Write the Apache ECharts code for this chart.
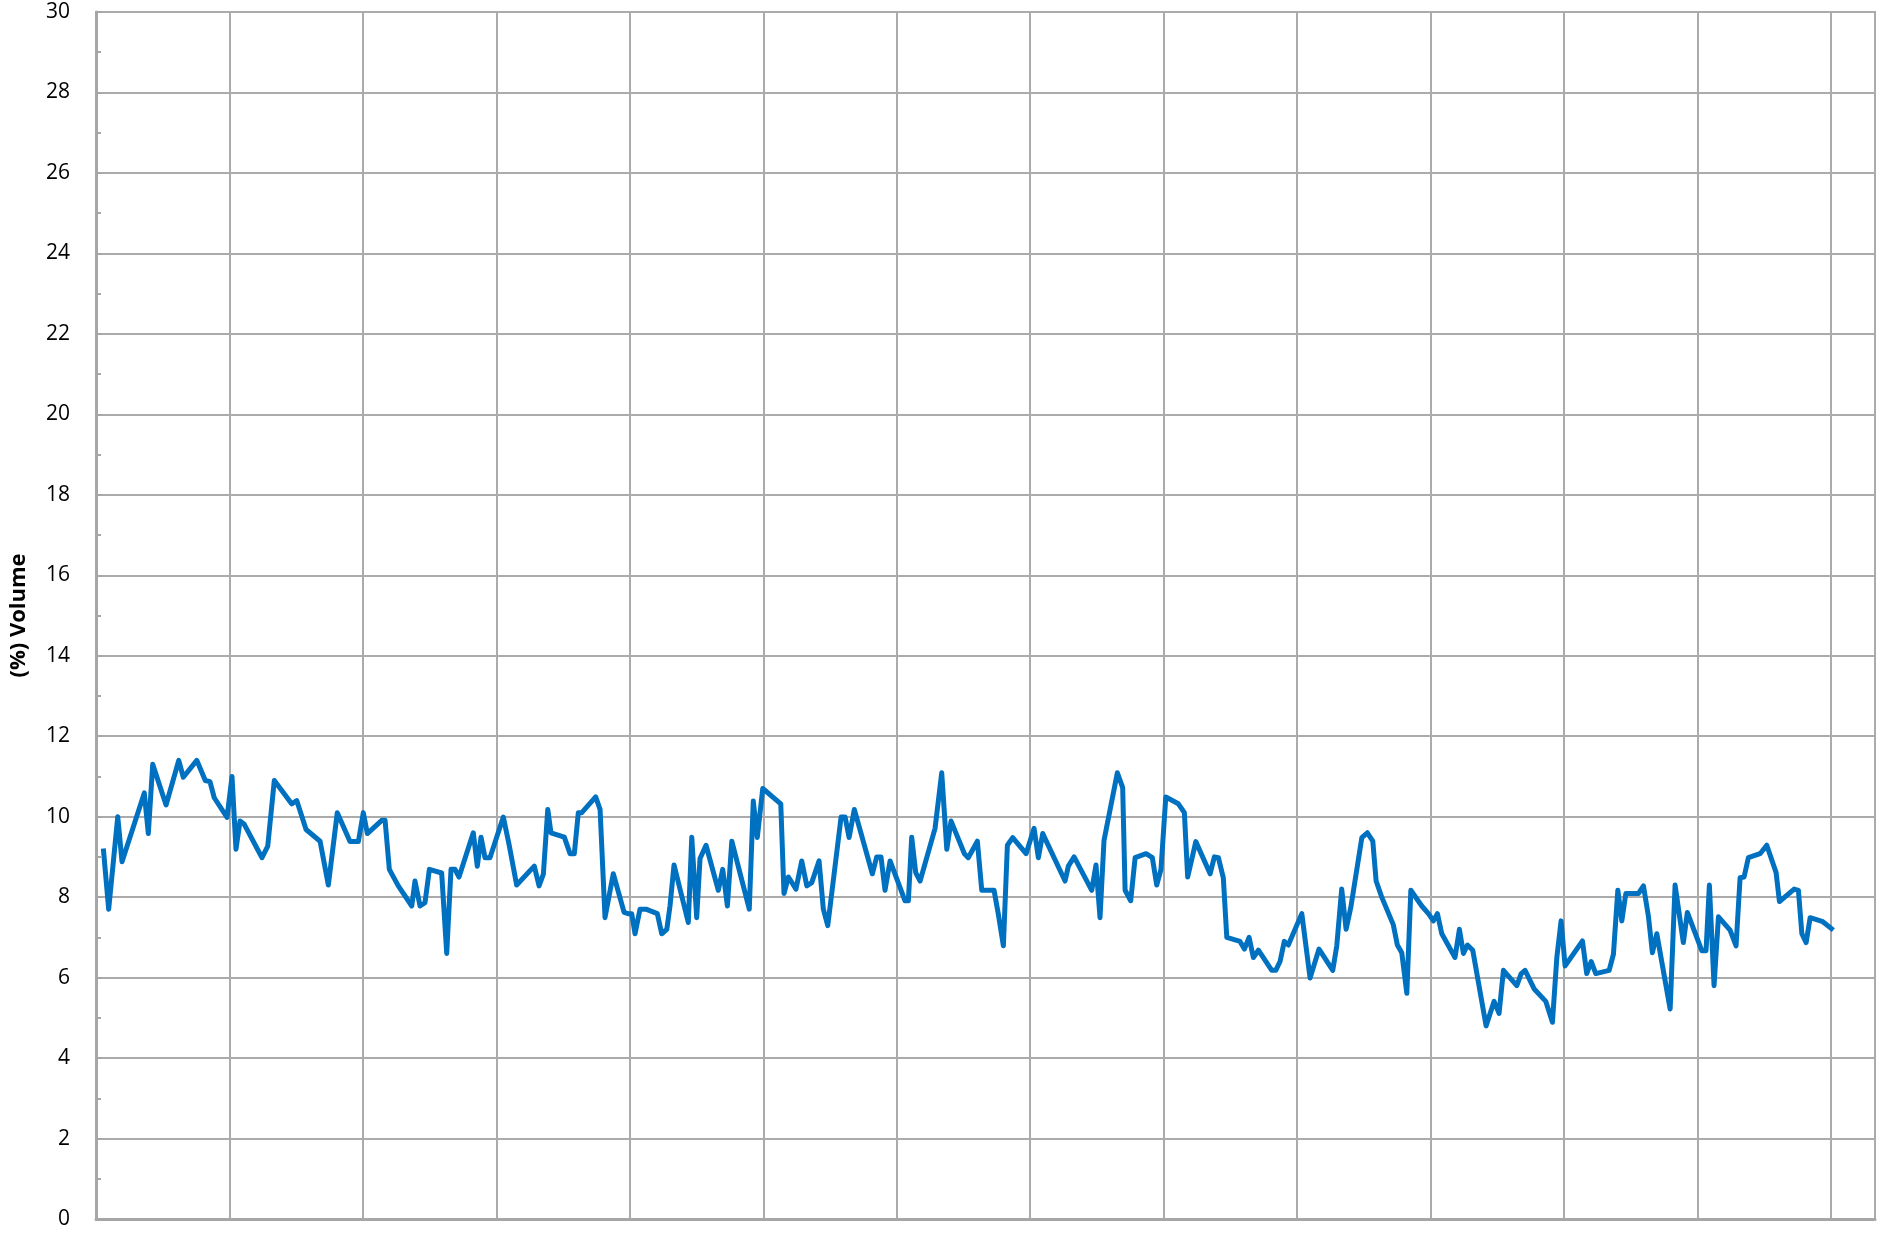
<!DOCTYPE html>
<html>
<head>
<meta charset="utf-8">
<script src="https://cdn.jsdelivr.net/npm/echarts@6/dist/echarts.min.js"></script>
<style>
html,body{margin:0;padding:0;background:#fff;}
#chart{width:1877px;height:1234px;}
</style>
</head>
<body>
<div id="chart"></div>
<script>
// x positions in grid-interval units (period index)
var periods = [
0.055,0.095,0.163,0.195,0.362,0.392,0.425,0.525,0.620,0.654,0.755,0.819,0.854,0.886,0.982,1.019,1.049,1.079,1.111,1.244,1.287,1.336,
1.466,1.504,1.574,1.679,1.741,1.808,1.903,1.966,2.003,2.033,2.141,2.166,2.198,2.265,2.366,2.390,2.428,2.465,2.498,2.590,2.628,
2.660,2.690,2.720,2.827,2.857,2.885,2.915,2.952,3.052,3.095,3.152,3.284,3.320,3.352,3.385,3.409,3.509,3.552,3.584,3.614,3.640,3.744,3.777,3.814,3.876,
3.957,3.987,4.014,4.039,4.076,4.121,4.206,4.239,4.277,4.301,4.331,4.438,4.464,4.501,4.526,4.571,4.663,4.696,4.731,4.764,4.895,4.925,4.955,4.996,5.131,5.155,5.188,5.245,
5.288,5.326,5.363,5.418,5.450,5.483,5.583,5.613,5.643,5.682,5.817,5.850,5.882,5.912,5.950,6.062,6.087,6.112,6.142,6.175,6.287,6.337,6.375,6.407,6.507,6.536,
6.604,6.637,6.729,6.761,6.799,6.829,6.869,6.969,7.029,7.061,7.094,7.261,7.286,7.329,7.461,7.493,7.523,7.553,7.653,7.693,7.711,7.753,7.786,7.868,
7.915,7.948,7.980,8.016,8.110,8.155,8.180,8.241,8.348,8.380,8.410,8.447,8.473,8.572,8.605,8.640,8.672,8.710,8.810,8.840,8.872,8.904,8.934,9.035,9.097,9.164,
9.267,9.297,9.334,9.367,9.402,9.485,9.526,9.567,9.592,9.634,9.721,9.751,9.784,9.822,9.852,9.934,9.984,10.021,10.051,10.084,10.183,10.216,10.246,10.276,10.316,10.416,10.476,
10.513,10.546,10.646,10.678,10.708,10.778,10.863,10.913,10.946,10.978,11.008,11.138,11.170,11.203,11.238,11.338,11.370,11.403,11.433,11.463,11.557,11.595,11.632,11.662,11.695,
11.795,11.832,11.894,11.924,12.032,12.064,12.089,12.124,12.157,12.244,12.289,12.319,12.349,12.381,12.469,12.519,12.589,12.614,12.724,12.756,12.782,12.814,12.844,12.939,13.018
];
// (%) Volume values
var volume = [
9.21,7.70,10.0,8.88,10.59,9.58,11.30,10.29,11.40,10.98,11.40,10.9,10.87,10.47,9.98,11.0,9.19,9.89,9.81,8.98,9.27,10.9,
10.32,10.40,9.68,9.39,8.30,10.1,9.38,9.38,10.1,9.58,9.91,9.91,8.69,8.28,7.78,8.40,7.78,7.86,8.69,8.6,6.6,
8.69,8.69,8.50,9.60,8.77,9.49,8.98,8.98,9.99,9.31,8.30,8.77,8.28,8.57,10.18,9.60,9.49,9.08,9.08,10.1,10.1,10.49,10.18,7.49,8.58,
7.62,7.59,7.59,7.09,7.70,7.70,7.59,7.09,7.20,7.78,8.80,7.37,9.49,7.49,8.96,9.29,8.17,8.69,7.78,9.39,7.70,10.39,9.48,10.70,10.32,8.09,8.5,8.20,
8.90,8.28,8.36,8.90,7.70,7.29,9.99,9.99,9.48,10.18,8.58,9.0,9.0,8.17,8.90,7.91,7.91,9.49,8.61,8.40,9.71,11.09,9.19,9.89,9.08,8.98,
9.39,8.17,8.17,7.58,6.79,9.29,9.48,9.08,9.71,8.98,9.58,8.40,8.77,9.0,8.17,8.80,7.49,9.41,11.09,10.72,8.17,7.91,8.98,9.08,
8.98,8.30,8.69,10.49,10.32,10.1,8.50,9.38,8.58,9.0,8.98,8.48,7.0,6.90,6.71,7.0,6.50,6.68,6.18,6.18,6.40,6.90,6.81,7.59,5.99,6.71,
6.18,6.79,8.2,7.2,7.74,9.48,9.60,9.39,8.40,8.0,7.31,6.81,6.62,5.61,8.17,7.78,7.59,7.41,7.59,7.09,6.50,7.20,6.60,6.81,6.68,4.80,5.41,
5.11,6.18,5.80,6.09,6.18,5.71,5.41,4.89,6.50,7.41,6.29,6.91,6.10,6.40,6.10,6.18,6.58,8.17,7.41,8.09,8.09,8.28,7.53,6.62,7.09,
5.22,8.30,6.87,7.62,6.67,6.67,8.30,5.80,7.51,7.18,6.79,8.48,8.50,8.98,9.08,9.29,8.61,7.89,8.20,8.17,7.09,6.87,7.49,7.39,7.18
];
var yTicks = [0,2,4,6,8,10,12,14,16,18,20,22,24,26,28,30];

var seriesData = periods.map(function(p,i){ return [p, volume[i]]; });

var chart = echarts.init(document.getElementById('chart'), null, {renderer:'canvas'});
var gridColor = '#ABABAB';
chart.setOption({
  animation:false,
  backgroundColor:'#ffffff',
  grid:{left:96, right:2, top:12, bottom:15, show:true, borderColor:gridColor, borderWidth:2, backgroundColor:'transparent', containLabel:false},
  xAxis:{
    type:'value', min:0, max:13.33, interval:1,
    axisLine:{show:true, lineStyle:{color:'#A6A6A6', width:3}},
    axisTick:{show:false}, axisLabel:{show:false},
    splitLine:{show:true, lineStyle:{color:gridColor, width:2}}
  },
  yAxis:{
    type:'value', min:yTicks[0], max:yTicks[yTicks.length-1], interval:2,
    name:'(%) Volume', nameLocation:'middle', nameGap:66, nameRotate:90,
    nameTextStyle:{fontFamily:'Open Sans', fontWeight:'bold', fontSize:22, color:'#000'},
    axisLine:{show:true, lineStyle:{color:'#A6A6A6', width:3}},
    axisTick:{show:true, inside:true, length:6, lineStyle:{color:'#A6A6A6', width:2}},
    minorTick:{show:true, splitNumber:2, length:5, lineStyle:{color:'#A6A6A6', width:2}},
    axisLabel:{margin:26, fontFamily:'Open Sans', fontSize:21, color:'#000'},
    splitLine:{show:true, lineStyle:{color:gridColor, width:2}}
  },
  series:[{
    type:'line', data:seriesData, showSymbol:false, symbol:'none',
    lineStyle:{color:'#0070C0', width:5, join:'round'},
    itemStyle:{color:'#0070C0'}
  }]
});
</script>
</body>
</html>
